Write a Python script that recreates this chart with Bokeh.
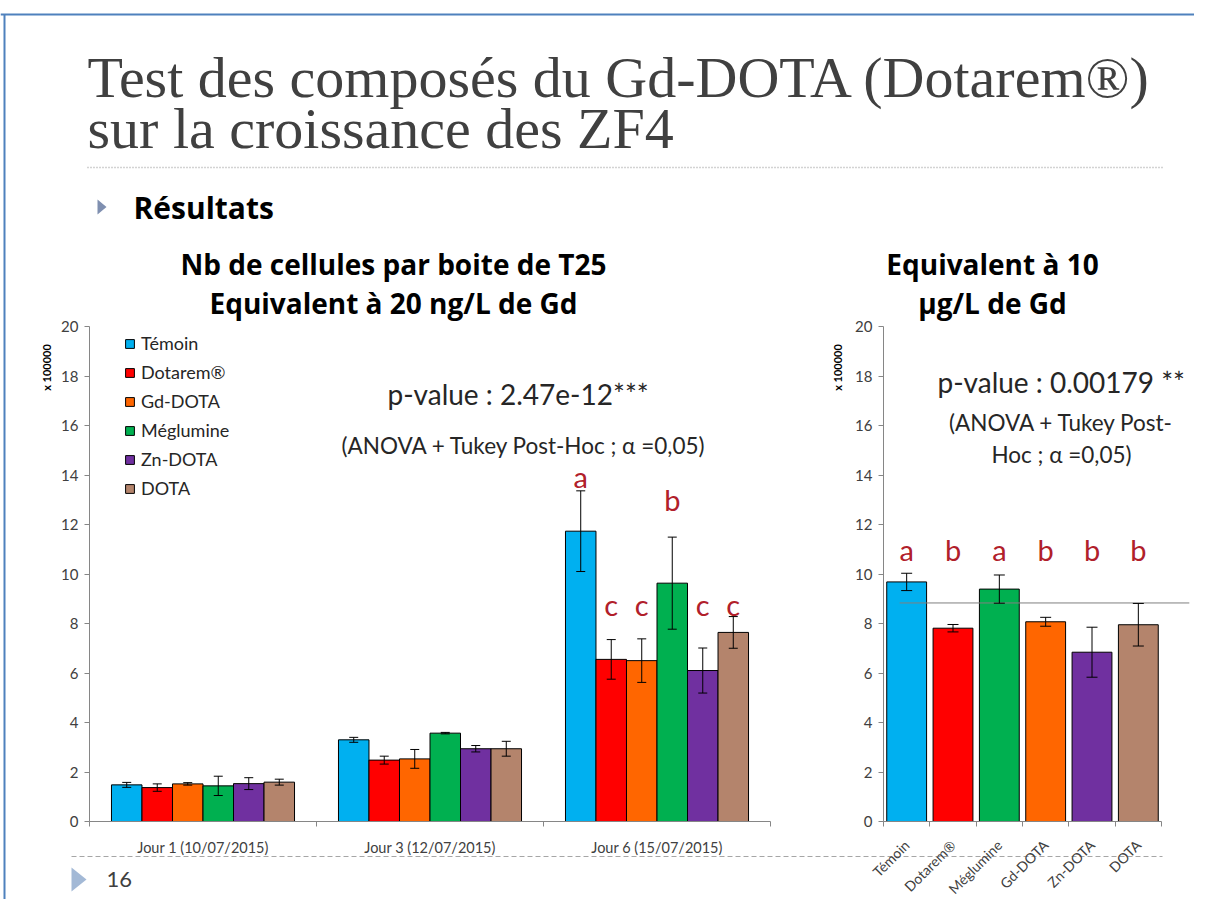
import numpy as np
from math import pi
from bokeh.plotting import figure
from bokeh.models import (Range1d, LinearAxis, FixedTicker, ColumnDataSource,
                          Whisker, TeeHead, Legend, LegendItem)
from bokeh.core.properties import value
from bokeh.embed import file_html
from bokeh.resources import INLINE

# ------------------------------------------------------------------ data
compounds = ["Témoin", "Dotarem®", "Gd-DOTA", "Méglumine", "Zn-DOTA", "DOTA"]
days = ["Jour 1 (10/07/2015)", "Jour 3 (12/07/2015)", "Jour 6 (15/07/2015)"]
colors = ["#00b0f0", "#ff0000", "#ff6600", "#00b050", "#7030a0", "#b4846c"]

# cells per T25 flask (x 100000), one value per day
temoin_mean = [1.48, 3.30, 11.73]
dotarem_mean = [1.37, 2.48, 6.55]
gddota_mean = [1.52, 2.53, 6.50]
meglumine_mean = [1.44, 3.57, 9.63]
zndota_mean = [1.53, 2.94, 6.10]
dota_mean = [1.59, 2.94, 7.64]

temoin_err = [0.10, 0.10, 1.63]
dotarem_err = [0.15, 0.16, 0.80]
gddota_err = [0.05, 0.38, 0.88]
meglumine_err = [0.39, 0.03, 1.86]
zndota_err = [0.24, 0.13, 0.91]
dota_err = [0.12, 0.30, 0.64]

j6_letters = ["a", "c", "c", "b", "c", "c"]
j6_letter_y = [13.95, 8.75, 8.75, 13.0, 8.75, 8.75]

# right chart: equivalent 10 µg/L
r_compounds = ["Témoin", "Dotarem®", "Méglumine", "Gd-DOTA", "Zn-DOTA", "DOTA"]
r_colors = ["#00b0f0", "#ff0000", "#00b050", "#ff6600", "#7030a0", "#b4846c"]
r_mean = [9.68, 7.81, 9.39, 8.07, 6.84, 7.95]
r_err = [0.35, 0.15, 0.57, 0.18, 1.01, 0.86]
r_letters = ["a", "b", "a", "b", "b", "b"]
r_letter_y = 11.0
r_ref_line = 8.83

y_ticks = list(range(0, 21, 2))

means = [temoin_mean, dotarem_mean, gddota_mean, meglumine_mean, zndota_mean, dota_mean]
errs = [temoin_err, dotarem_err, gddota_err, meglumine_err, zndota_err, dota_err]

# ------------------------------------------------------------------ layout
W, H = 1194, 899
PX0, PY0 = 1, 1                       # where the canvas lands in the photograph
PX1, PY1 = PX0 + W, PY0 + H


def lin_range(v0, p0, v1, p1, pa, pb):
    k = (v1 - v0) / (p1 - p0)
    return Range1d(start=v0 + (pa - p0) * k, end=v0 + (pb - p0) * k)


p = figure(width=W, height=H, x_range=Range1d(PX0, PX1), y_range=Range1d(PY1, PY0),
           x_axis_type=None, y_axis_type=None, toolbar_location=None,
           output_backend="svg", min_border=0, outline_line_color=None,
           background_fill_color="white", border_fill_color="white")

# value axis shared by both charts: 0 -> 822 px, 20 -> 327 px
p.extra_y_ranges = {"ly": lin_range(0, 822, 20, 327, PY1, PY0)}
p.extra_x_ranges = {
    "lx": lin_range(0.5, 90, 3.5, 771, PX0, PX1),
    "rx": lin_range(0.5, 884, 6.5, 1162, PX0, PX1),
}

AX = "#868686"
TXT = "#404040"
FONT = "Lato"
BOLD = "Open Sans"

# ------------------------------------------------------------------ slide decoration
p.line([PX0, PX1], [15, 15], line_color="#4f81bd", line_width=2)
p.line([5, 5], [15, PY1], line_color="#4f81bd", line_width=2)

p.text(x=[88, 88], y=[78, 129],
       text=["Test des composés du Gd-DOTA (Dotarem®)", "sur la croissance des ZF4"],
       text_font=value("Liberation Serif"), text_font_size="58px",
       text_color="#404040", text_baseline="middle", text_align="left")
p.line([88, 1163], [168, 168], line_color="#a6a6a6", line_width=1.5, line_dash="1 2")

p.patch([98, 98, 107], [200, 215, 207.5], fill_color="#7f8fb0", line_color=None)
p.text(x=[134], y=[208], text=["Résultats"], text_font=value(BOLD),
       text_font_style="bold", text_font_size="30px", text_color="black",
       text_baseline="middle", text_align="left")

p.text(x=[394, 394], y=[264, 303],
       text=["Nb de cellules par boite de T25", "Equivalent à 20 ng/L de Gd"],
       text_font=value(BOLD), text_font_style="bold", text_font_size="28px",
       text_color="black", text_baseline="middle", text_align="center")
p.text(x=[993, 993], y=[264, 303], text=["Equivalent à 10", "µg/L de Gd"],
       text_font=value(BOLD), text_font_style="bold", text_font_size="28px",
       text_color="black", text_baseline="middle", text_align="center")

p.text(x=[47, 838], y=[368, 368], text=["x 100000", "x 100000"], angle=pi / 2,
       text_font=value(FONT), text_font_style="bold", text_font_size="11px",
       text_color="black", text_baseline="middle", text_align="center")

# footer
p.line([72, 1163], [857, 857], line_color="#a6a6a6", line_width=1, line_dash="5 3")
p.patch([72, 72, 87], [868, 892, 880], fill_color="#a3b9d6", line_color=None)
p.text(x=[107], y=[880], text=["16"], text_font=value(FONT), text_font_size="22px",
       text_color=TXT, text_baseline="middle", text_align="left")

# ------------------------------------------------------------------ left chart
n = len(compounds)
bw = 0.1344
group_x = np.arange(1, len(days) + 1)
items = []
for i in range(n):
    xs = group_x + (i - (n - 1) / 2) * bw
    m = np.array(means[i])
    e = np.array(errs[i])
    r = p.vbar(x=xs, top=m, bottom=0, width=bw, fill_color=colors[i],
               line_color="black", line_width=1, x_range_name="lx", y_range_name="ly")
    items.append(LegendItem(label=compounds[i], renderers=[r]))
    src = ColumnDataSource(dict(x=xs, upper=m + e, lower=m - e))
    p.add_layout(Whisker(source=src, base="x", upper="upper", lower="lower",
                         line_color="black", line_width=1, level="overlay",
                         upper_head=TeeHead(size=9, line_color="black", line_width=1),
                         lower_head=TeeHead(size=9, line_color="black", line_width=1),
                         x_range_name="lx", y_range_name="ly"))

j6_x = group_x[-1] + (np.arange(n) - (n - 1) / 2) * bw
p.text(x=j6_x, y=j6_letter_y, text=j6_letters, x_range_name="lx", y_range_name="ly",
       text_font=value(FONT), text_font_size="29px", text_color="#b1202a",
       text_align="center", text_baseline="middle")

p.text(x=[388], y=[394], text=["p-value : 2.47e-12***"], text_font=value(FONT),
       text_font_size="28px", text_color="#262626", text_baseline="middle", text_align="left")
p.text(x=[342], y=[446], text=["(ANOVA + Tukey Post-Hoc ; α =0,05)"], text_font=value(FONT),
       text_font_size="22.5px", text_color="#262626", text_baseline="middle", text_align="left")

legend = Legend(items=items, location=(125 - PX0, PY1 - 500), padding=0, margin=0,
                border_line_color=None, background_fill_alpha=0,
                glyph_width=11, glyph_height=11, label_height=20, spacing=7,
                label_standoff=6, label_text_font=FONT, label_text_font_size="18px",
                label_text_color="#262626")
p.add_layout(legend)

ly_axis = LinearAxis(x_range_name="lx", y_range_name="ly", fixed_location=0.5,
                     bounds=(0, 20), ticker=FixedTicker(ticks=y_ticks),
                     axis_line_color=AX, major_tick_line_color=AX, major_tick_in=0,
                     major_tick_out=5, minor_tick_line_color=None,
                     major_label_text_font=FONT, major_label_text_font_size="15px",
                     major_label_text_color=TXT, major_label_standoff=6)
p.add_layout(ly_axis, "left")

lx_axis = LinearAxis(x_range_name="lx", y_range_name="ly", fixed_location=0,
                     bounds=(0.5, len(days) + 0.5),
                     ticker=FixedTicker(ticks=list(group_x),
                                        minor_ticks=list(np.arange(len(days) + 1) + 0.5)),
                     major_label_overrides={int(g): d for g, d in zip(group_x, days)},
                     axis_line_color=AX, major_tick_line_color=None, major_tick_in=0,
                     major_tick_out=0, minor_tick_line_color=AX, minor_tick_in=0,
                     minor_tick_out=5, major_label_text_font=FONT,
                     major_label_text_font_size="14.5px", major_label_text_color=TXT,
                     major_label_standoff=12)
p.add_layout(lx_axis, "below")

# ------------------------------------------------------------------ right chart
rx = np.arange(1, len(r_compounds) + 1)
rm = np.array(r_mean)
re_ = np.array(r_err)
p.vbar(x=rx, top=rm, bottom=0, width=0.86, fill_color=r_colors, line_color="black",
       line_width=1, x_range_name="rx", y_range_name="ly")
rsrc = ColumnDataSource(dict(x=rx, upper=rm + re_, lower=rm - re_))
p.add_layout(Whisker(source=rsrc, base="x", upper="upper", lower="lower",
                     line_color="black", line_width=1, level="overlay",
                     upper_head=TeeHead(size=11, line_color="black", line_width=1),
                     lower_head=TeeHead(size=11, line_color="black", line_width=1),
                     x_range_name="rx", y_range_name="ly"))
p.line([0.85, 7.1], [r_ref_line, r_ref_line], line_color="#7f7f7f", line_width=1,
       x_range_name="rx", y_range_name="ly")
p.text(x=rx, y=[r_letter_y] * len(rx), text=r_letters, x_range_name="rx", y_range_name="ly",
       text_font=value(FONT), text_font_size="29px", text_color="#b1202a",
       text_align="center", text_baseline="middle")

p.text(x=[938], y=[382], text=["p-value : 0.00179 **"], text_font=value(FONT),
       text_font_size="28px", text_color="#262626", text_baseline="middle", text_align="left")
p.text(x=[1062, 1062], y=[423, 455], text=["(ANOVA + Tukey Post-", "Hoc ; α =0,05)"],
       text_font=value(FONT), text_font_size="22.5px", text_color="#262626",
       text_baseline="middle", text_align="center")

ry_axis = LinearAxis(x_range_name="rx", y_range_name="ly", fixed_location=0.5,
                     bounds=(0, 20), ticker=FixedTicker(ticks=y_ticks),
                     axis_line_color=AX, major_tick_line_color=AX, major_tick_in=0,
                     major_tick_out=5, minor_tick_line_color=None,
                     major_label_text_font=FONT, major_label_text_font_size="15px",
                     major_label_text_color=TXT, major_label_standoff=6)
p.add_layout(ry_axis, "left")

rx_axis = LinearAxis(x_range_name="rx", y_range_name="ly", fixed_location=0,
                     bounds=(0.5, len(r_compounds) + 0.5),
                     ticker=FixedTicker(ticks=list(rx),
                                        minor_ticks=list(np.arange(len(r_compounds) + 1) + 0.5)),
                     major_label_overrides={int(c): n_ for c, n_ in zip(rx, r_compounds)},
                     major_label_orientation=pi / 4,
                     axis_line_color=AX, major_tick_line_color=None, major_tick_in=0,
                     major_tick_out=0, minor_tick_line_color=AX, minor_tick_in=0,
                     minor_tick_out=5, major_label_text_font=FONT,
                     major_label_text_font_size="14px", major_label_text_color=TXT,
                     major_label_standoff=16)
p.add_layout(rx_axis, "below")

open("out.html", "w").write(file_html(p, INLINE))
